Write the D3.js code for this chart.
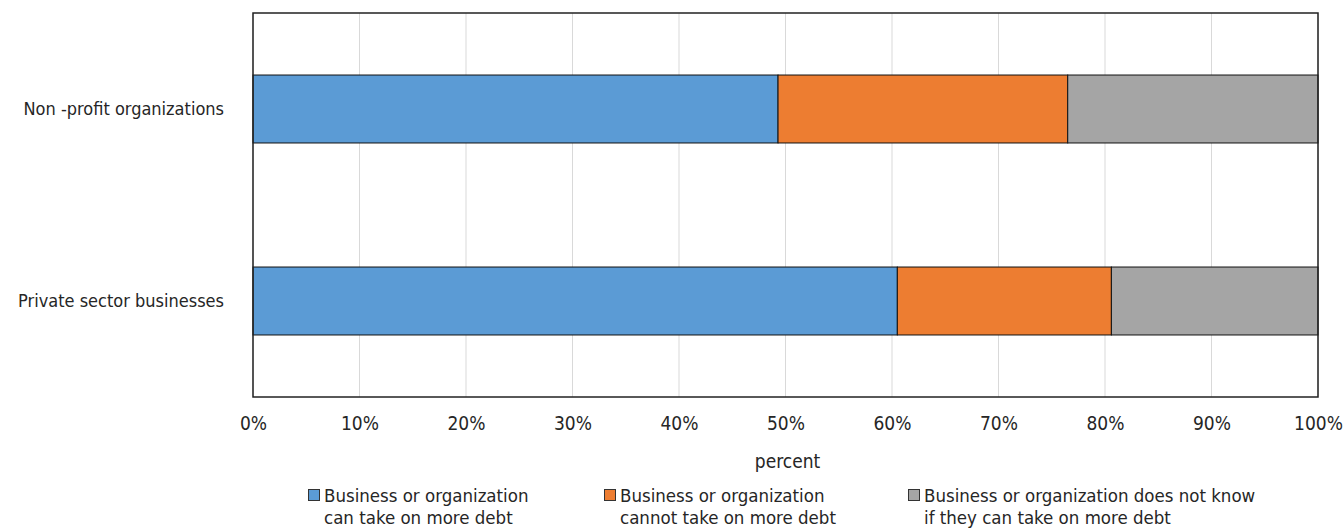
<!DOCTYPE html>
<html>
<head>
<meta charset="utf-8">
<script src="https://cdn.jsdelivr.net/npm/d3@7/dist/d3.min.js"></script>
<style>
  html, body { margin: 0; padding: 0; background: #fff; }
  svg text { font-family: "Liberation Sans Narrow", "DejaVu Sans Condensed", "Roboto", sans-serif; fill: #262626; }
</style>
</head>
<body>
<svg id="chart" width="1344" height="529"></svg>
<script>
// Survey shares (percent of respondents) by sector
const categories = ["Non -profit organizations", "Private sector businesses"];
const seriesNames = [
  ["Business or organization", "can take on more debt"],
  ["Business or organization", "cannot take on more debt"],
  ["Business or organization does not know", "if they can take on more debt"]
];
const canTakeMore = [49.3, 60.5];
const cannotTakeMore = [27.2, 20.1];
const doesNotKnow = [23.5, 19.4];
const tickValues = [0, 10, 20, 30, 40, 50, 60, 70, 80, 90, 100];
const axisTitle = "percent";
const colors = ["#5B9BD5", "#ED7D31", "#A5A5A5"];

const width = 1344, height = 529;
const margin = { top: 13, right: 26, bottom: 132, left: 253 };
const innerW = width - margin.left - margin.right;
const innerH = height - margin.top - margin.bottom;

const svg = d3.select("#chart");
const g = svg.append("g").attr("transform", `translate(${margin.left},${margin.top})`);

const rows = categories.map((c, i) => ({
  category: c,
  values: [canTakeMore[i], cannotTakeMore[i], doesNotKnow[i]]
}));

const x = d3.scaleLinear().domain([0, 100]).range([0, innerW]);
const y = d3.scaleBand().domain(categories).range([0, innerH]).paddingInner(0.646).paddingOuter(0.323);

// vertical gridlines
g.append("g")
  .selectAll("line")
  .data(tickValues)
  .join("line")
  .attr("x1", d => x(d)).attr("x2", d => x(d))
  .attr("y1", 0).attr("y2", innerH)
  .attr("stroke", "#d9d9d9").attr("stroke-width", 1);

// stacked bars
const stackData = rows.map(r => {
  let acc = 0;
  return r.values.map((v, k) => {
    const seg = { category: r.category, x0: acc, x1: acc + v, k };
    acc += v;
    return seg;
  });
}).flat();

g.append("g")
  .selectAll("rect")
  .data(stackData)
  .join("rect")
  .attr("x", d => x(d.x0))
  .attr("width", d => x(d.x1) - x(d.x0))
  .attr("y", d => y(d.category))
  .attr("height", y.bandwidth())
  .attr("fill", d => colors[d.k])
  .attr("stroke", "#111")
  .attr("stroke-width", 1);

// plot frame
g.append("rect")
  .attr("x", 0).attr("y", 0)
  .attr("width", innerW).attr("height", innerH)
  .attr("fill", "none")
  .attr("stroke", "#222")
  .attr("stroke-width", 1.5);

// x axis labels
const xAxis = d3.axisBottom(x)
  .tickValues(tickValues)
  .tickSize(0)
  .tickPadding(0)
  .tickFormat(d => d + "%");
const xg = g.append("g").attr("transform", `translate(0,${innerH})`).call(xAxis);
xg.select(".domain").remove();
xg.selectAll("text")
  .attr("y", 33).attr("dy", null)
  .style("font-size", "19px");

// y axis labels
const yAxis = d3.axisLeft(y).tickSize(0).tickPadding(29);
const yg = g.append("g").call(yAxis);
yg.select(".domain").remove();
yg.selectAll("text").attr("dy", "0.35em").style("font-size", "18px");

// axis title
svg.append("text")
  .attr("x", margin.left + x(50) + 2)
  .attr("y", 468)
  .attr("text-anchor", "middle")
  .style("font-size", "19px")
  .text(axisTitle);

// legend
const legendX = [308, 604, 908];
const legend = svg.append("g");
seriesNames.forEach((lines, k) => {
  const item = legend.append("g").attr("transform", `translate(${legendX[k]},0)`);
  item.append("rect")
    .attr("x", 0.5).attr("y", 489.5)
    .attr("width", 11).attr("height", 11)
    .attr("fill", colors[k])
    .attr("stroke", "#333").attr("stroke-width", 1);
  const t = item.append("text")
    .attr("x", 16).attr("y", 502)
    .style("font-size", "18.5px");
  lines.forEach((line, j) => {
    t.append("tspan").attr("x", 16).attr("dy", j === 0 ? 0 : 22).text(line);
  });
});
</script>
</body>
</html>
